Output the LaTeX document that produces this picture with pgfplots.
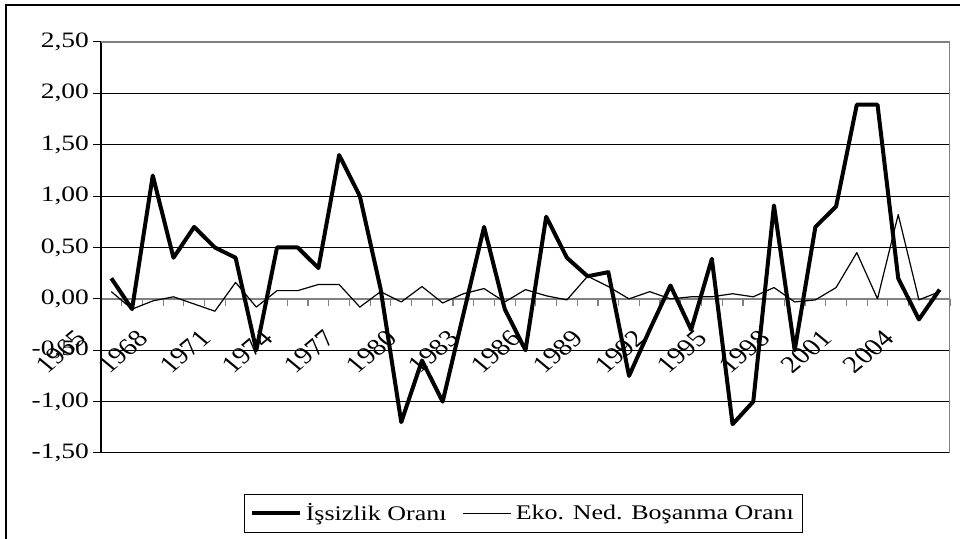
\documentclass[border=0pt]{standalone}
\usepackage{fontspec}
\setmainfont{Liberation Serif}
\usepackage{pgfplots}
\pgfplotsset{compat=1.18}
\newcommand{\sx}[1]{\scalebox{1.25}[1]{#1}}
\pgfplotstableread{
x y
0 0.20
1 -0.10
2 1.20
3 0.40
4 0.70
5 0.50
6 0.40
7 -0.50
8 0.50
9 0.50
10 0.30
11 1.40
12 1.00
13 0.10
14 -1.20
15 -0.60
16 -1.00
17 -0.15
18 0.70
19 -0.10
20 -0.50
21 0.80
22 0.40
23 0.22
24 0.26
25 -0.75
26 -0.30
27 0.13
28 -0.30
29 0.39
30 -1.22
31 -1.00
32 0.91
33 -0.50
34 0.70
35 0.90
36 1.89
37 1.89
38 0.20
39 -0.20
40 0.09
}\issizlik
\pgfplotstableread{
x y
0 0.07
1 -0.10
2 -0.02
3 0.02
4 -0.05
5 -0.12
6 0.16
7 -0.08
8 0.08
9 0.08
10 0.14
11 0.14
12 -0.08
13 0.07
14 -0.03
15 0.12
16 -0.04
17 0.05
18 0.10
19 -0.03
20 0.09
21 0.03
22 -0.01
23 0.22
24 0.12
25 0.00
26 0.07
27 0.00
28 0.02
29 0.02
30 0.05
31 0.02
32 0.11
33 -0.03
34 -0.01
35 0.11
36 0.45
37 0.00
38 0.82
39 -0.01
40 0.07
}\bosanma
\begin{document}
\begin{tikzpicture}
\useasboundingbox (0,0) rectangle (480pt,269.5pt);
\draw[line width=1pt] (3pt,0) -- (3pt,267pt) -- (480pt,267pt);
\begin{axis}[
  at={(50.5pt,43pt)}, anchor=south west,
  scale only axis, width=424.5pt, height=205.5pt,
  xmin=-0.5, xmax=40.5, ymin=-1.5, ymax=2.5,
  axis x line=middle, axis y line=left,
  x axis line style={-, draw=gray, line width=0.8pt},
  y axis line style={-, draw=black, line width=0.6pt},
  hide obscured x ticks=false, hide obscured y ticks=false,
  ytick={-1.5,-1,-0.5,0,0.5,1,1.5,2,2.5},
  yticklabels={{\sx{-1,50}},{\sx{-1,00}},{\sx{-0,50}},{\sx{0,00}},{\sx{0,50}},{\sx{1,00}},{\sx{1,50}},{\sx{2,00}},{\sx{2,50}}},
  xtick={0,3,...,39},
  xticklabels={1965,1968,1971,1974,1977,1980,1983,1986,1989,1992,1995,1998,2001,2004},
  minor xtick={-0.5,0.5,...,40.5},
  major x tick style={draw=none},
  minor x tick style={draw=gray, line width=0.6pt},
  ytick style={draw=black, line width=0.5pt},
  major tick length=4pt, minor tick length=3.5pt,
  xtick align=outside, ytick align=outside,
  ymajorgrids, major grid style={black, line width=0.5pt},
  yticklabel style={font=\fontsize{11pt}{13pt}\selectfont, xshift=1.5pt},
  xticklabel style={font=\fontsize{12pt}{14pt}\selectfont, xshift=-14pt, yshift=-13pt, xscale=1.2, rotate=45, anchor=east, inner sep=1pt},
  legend style={at={(0.498,-0.147)}, anchor=center, legend columns=2,
    draw=black, line width=0.5pt, font=\fontsize{10.4pt}{12pt}\selectfont,
    inner sep=2.5pt,
    /tikz/every even column/.append style={column sep=6pt}},
  legend image code/.code={\draw[#1] (0pt,0pt) -- (24pt,0pt);},
]
\addplot[black, line width=2pt, line join=round] table[x=x,y=y] {\issizlik};
\addlegendentry{\sx{İşsizlik Oranı}}
\addplot[black, line width=0.6pt, line join=round] table[x=x,y=y] {\bosanma};
\addlegendentry{\sx{Eko. Ned. Boşanma Oranı}}
\draw[gray, line width=0.8pt] (rel axis cs:0,1) -- (rel axis cs:1,1) -- (rel axis cs:1,0);
\end{axis}
\end{tikzpicture}
\end{document}
